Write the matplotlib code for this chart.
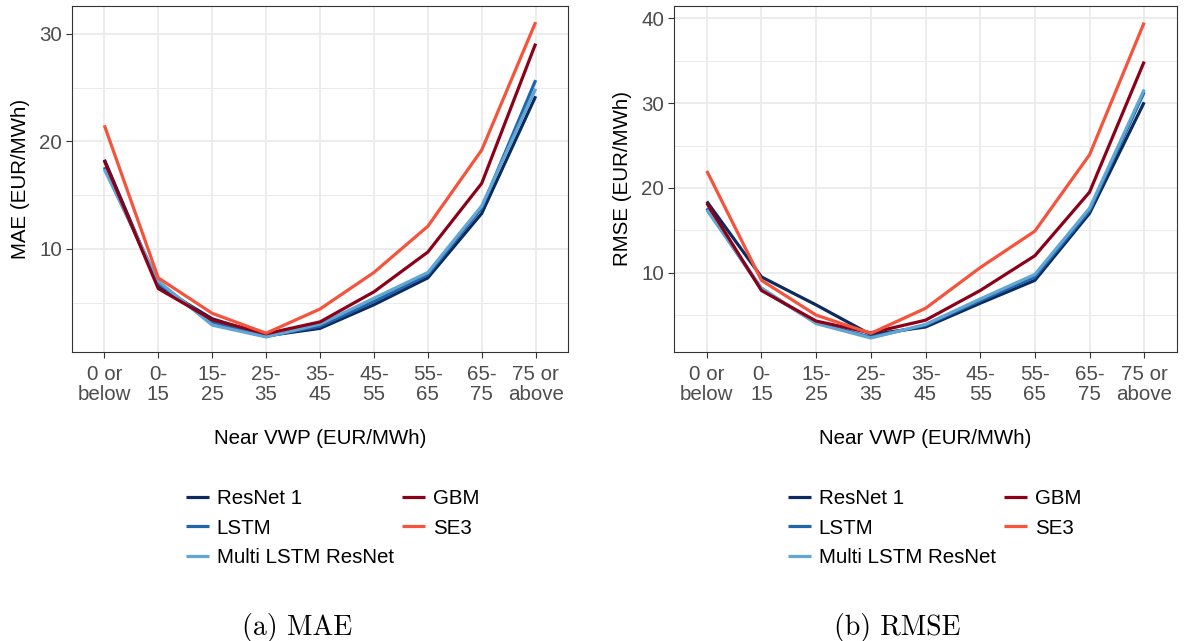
import matplotlib
matplotlib.use("Agg")
import matplotlib.pyplot as plt
from matplotlib.ticker import MultipleLocator, FixedLocator

plt.rcParams['font.family'] = ['Liberation Sans', 'DejaVu Sans']

bins = ["0 or\nbelow", "0-\n15", "15-\n25", "25-\n35", "35-\n45",
        "45-\n55", "55-\n65", "65-\n75", "75 or\nabove"]
models = ["ResNet 1", "LSTM", "Multi LSTM ResNet", "GBM", "SE3"]
colors = ["#0b2a5e", "#2166ac", "#62a6d3", "#8c0018", "#f5533b"]

# MAE per price bin
mae_resnet1 = [18.3, 6.5, 3.5, 1.9, 2.6, 4.8, 7.3, 13.3, 24.2]
mae_lstm    = [17.6, 6.8, 3.2, 1.85, 2.8, 5.1, 7.6, 13.8, 25.7]
mae_multi   = [17.4, 7.0, 2.9, 1.8, 3.0, 5.4, 7.8, 14.0, 24.9]
mae_gbm     = [18.2, 6.3, 3.4, 2.1, 3.2, 6.0, 9.7, 16.1, 29.1]
mae_se3     = [21.5, 7.3, 4.0, 2.15, 4.4, 7.8, 12.1, 19.2, 31.1]

# RMSE per price bin
rmse_resnet1 = [18.4, 9.5, 6.2, 2.7, 3.6, 6.4, 9.1, 17.0, 30.1]
rmse_lstm    = [17.6, 8.0, 4.1, 2.4, 3.8, 6.7, 9.5, 17.3, 31.3]
rmse_multi   = [17.4, 8.2, 4.0, 2.3, 3.9, 6.9, 9.8, 17.6, 31.6]
rmse_gbm     = [18.2, 7.9, 4.3, 2.9, 4.4, 7.9, 12.0, 19.5, 34.9]
rmse_se3     = [22.0, 9.1, 5.0, 2.85, 5.8, 10.6, 14.9, 23.9, 39.5]

fig = plt.figure(figsize=(11.93, 6.41), dpi=100)
W, H = 1193, 641
ax1 = fig.add_axes([72 / W, 1 - 352 / H, 496 / W, 346 / H])
ax2 = fig.add_axes([674 / W, 1 - 352 / H, 503 / W, 346 / H])


def draw_panel(ax, series, ylabel, ylim, major, caption, cap_x, leg_x):
    x = list(range(len(bins)))
    for name, col, vals in zip(models, colors, series):
        ax.plot(x, vals, color=col, lw=2.3, label=name, solid_capstyle='butt')
    ax.set_xlim(-0.6, len(bins) - 0.4)
    ax.set_ylim(*ylim)
    ax.set_xticks(x)
    ax.set_xticklabels(bins, fontsize=14.8, color='#4d4d4d', linespacing=1.1)
    ax.yaxis.set_major_locator(MultipleLocator(major))
    ax.yaxis.set_minor_locator(FixedLocator([major / 2 + major * k for k in range(5)]))
    ax.tick_params(axis='y', labelsize=14.8, labelcolor='#4d4d4d', pad=3)
    ax.tick_params(axis='x', pad=5)
    ax.tick_params(which='major', length=4, width=0.8, color='#333333')
    ax.tick_params(which='minor', length=0)
    ax.grid(which='major', color='#ebebeb', lw=1.3)
    ax.grid(which='minor', axis='y', color='#ebebeb', lw=0.7)
    ax.set_axisbelow(True)
    for s in ax.spines.values():
        s.set_color('#333333')
        s.set_linewidth(0.8)
    ax.set_xlabel("Near VWP (EUR/MWh)", fontsize=14.8, labelpad=18)
    ax.set_ylabel(ylabel, fontsize=14.8, labelpad=7)
    ax.legend(loc='upper left', bbox_to_anchor=(leg_x / W, 1 - 489 / H),
              bbox_transform=fig.transFigure, ncol=2, frameon=False,
              fontsize=14.8, handlelength=1.1, handletextpad=0.4,
              columnspacing=0.4, labelspacing=0.52, borderpad=0,
              borderaxespad=0)
    fig.text(cap_x / W, 1 - 628 / H, caption, family='cmr10', fontsize=20,
             ha='center', va='center')


draw_panel(ax1, [mae_resnet1, mae_lstm, mae_multi, mae_gbm, mae_se3],
           "MAE (EUR/MWh)", (0.4, 32.6), 10, "(a) MAE", 297, 186)
draw_panel(ax2, [rmse_resnet1, rmse_lstm, rmse_multi, rmse_gbm, rmse_se3],
           "RMSE (EUR/MWh)", (0.65, 41.45), 10, "(b) RMSE", 897, 788)

fig.savefig("out.png", dpi=100)
